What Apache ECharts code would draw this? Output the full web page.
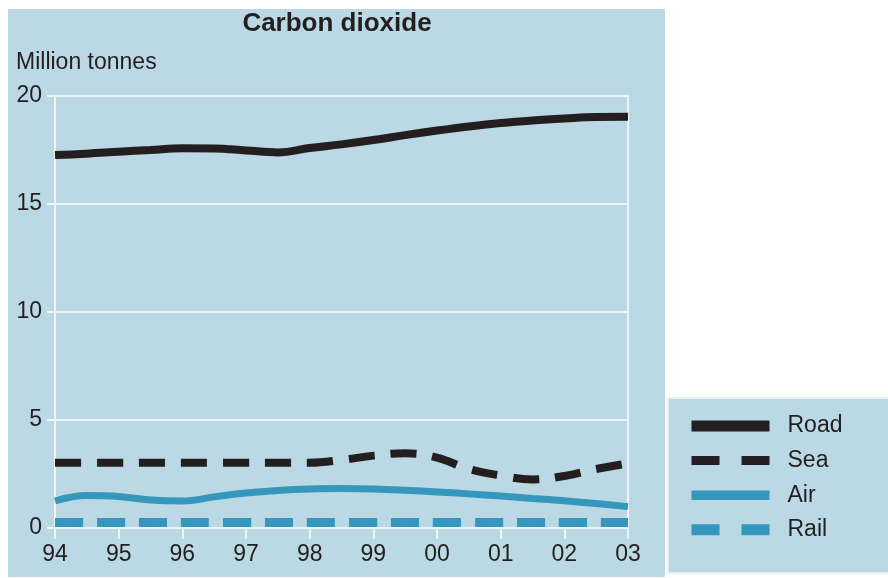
<!DOCTYPE html>
<html>
<head>
<meta charset="utf-8">
<script src="https://cdn.jsdelivr.net/npm/echarts@6/dist/echarts.min.js"></script>
<style>
html,body{margin:0;padding:0;background:#ffffff;}
#chart{width:888px;height:578px;}
</style>
</head>
<body>
<div id="chart"></div>
<script>
// x positions (years, half-year steps)
var years = [1994,1994.5,1995,1995.5,1996,1996.5,1997,1997.5,1998,1998.5,1999,1999.5,2000,2000.5,2001,2001.5,2002,2002.5,2003];
var road  = [17.27,17.33,17.42,17.50,17.58,17.57,17.48,17.39,17.59,17.76,17.96,18.19,18.40,18.59,18.75,18.87,18.96,19.03,19.04];
var sea   = [3.02,3.02,3.02,3.02,3.02,3.02,3.02,3.02,3.02,3.15,3.35,3.46,3.26,2.73,2.43,2.25,2.41,2.73,2.99];
var air   = [1.25,1.50,1.46,1.30,1.25,1.44,1.62,1.74,1.81,1.83,1.81,1.75,1.67,1.58,1.48,1.37,1.26,1.13,0.99];
var rail  = [0.25,0.25,0.25,0.25,0.25,0.25,0.25,0.25,0.25,0.25,0.25,0.25,0.25,0.25,0.25,0.25,0.25,0.25,0.25];
var seriesNames = ['Road','Sea','Air','Rail'];
var yTicks = [0,5,10,15,20];

function pairs(vals){ return years.map(function(x,i){ return [x, vals[i]]; }); }

var BLACK = '#231f20', TEAL = '#3497bb', BG = '#bbd8e5', GRID = '#eef5f8', TXT = '#231f20';
var FONT = '"Liberation Sans", Arial, Helvetica, sans-serif';
var NOSYM = { color: 'rgba(0,0,0,0)', borderWidth: 0, opacity: 0 };

var chart = echarts.init(document.getElementById('chart'));
chart.setOption({
  animation: false,
  backgroundColor: '#ffffff',
  textStyle: { fontFamily: FONT },
  title: {
    text: 'Carbon dioxide',
    left: 332, top: 6, textAlign: 'center',
    textStyle: { fontFamily: FONT, fontSize: 26, fontWeight: 'bold', color: TXT }
  },
  graphic: [
    { type: 'rect', z: -100, shape: { x: 8, y: 9, width: 657, height: 568 }, style: { fill: BG } },
    { type: 'rect', z: -100, shape: { x: 668, y: 398, width: 222, height: 175 }, style: { fill: BG, stroke: '#e4eff4', lineWidth: 2 } },
    { type: 'text', left: 16, top: 51, style: { text: 'Million tonnes', font: '23px ' + FONT, fill: TXT } }
  ],
  grid: { left: 55, right: 260, top: 96, bottom: 50, containLabel: false },
  xAxis: {
    type: 'value', min: 1994, max: 2003, interval: 1,
    axisLine: { show: true, lineStyle: { color: GRID, width: 2 } },
    axisTick: { show: true, length: 11, lineStyle: { color: GRID, width: 2 } },
    axisLabel: { margin: 15, fontSize: 23, color: TXT, fontFamily: FONT,
      formatter: function(v){ return String(v).slice(2); } },
    splitLine: { show: false }
  },
  yAxis: [{
    type: 'value', min: yTicks[0], max: yTicks[yTicks.length-1], interval: 5,
    axisLine: { show: true, lineStyle: { color: GRID, width: 2 } },
    axisTick: { show: true, length: 8, lineStyle: { color: GRID, width: 2 } },
    axisLabel: { margin: 13, fontSize: 23, color: TXT, fontFamily: FONT },
    splitLine: { show: true, lineStyle: { color: GRID, width: 2 } }
  }, {
    type: 'value', min: 0, max: 20, interval: 5, position: 'right',
    axisLine: { show: true, lineStyle: { color: GRID, width: 2 } },
    axisTick: { show: false }, axisLabel: { show: false }, splitLine: { show: false }
  }],
  legend: {
    orient: 'vertical', left: 681, top: 409,
    itemWidth: 78, itemHeight: 24, itemGap: 10.6,
    selectedMode: false,
    textStyle: { fontSize: 23, color: TXT, fontFamily: FONT, lineHeight: 24, padding: [0,0,0,13] },
    data: [
      { name: seriesNames[0], itemStyle: NOSYM, lineStyle: { width: 11, type: 'solid' } },
      { name: seriesNames[1], itemStyle: NOSYM, lineStyle: { width: 9, type: [28,22] } },
      { name: seriesNames[2], itemStyle: NOSYM, lineStyle: { width: 9.5, type: 'solid' } },
      { name: seriesNames[3], itemStyle: NOSYM, lineStyle: { width: 11, type: [28,22] } }
    ]
  },
  series: [
    { name: seriesNames[0], type: 'line', data: pairs(road), smooth: 0.4, symbol: 'none',
      lineStyle: { color: BLACK, width: 8 }, itemStyle: { color: BLACK }, z: 5 },
    { name: seriesNames[1], type: 'line', data: pairs(sea), smooth: 0.4, symbol: 'none',
      lineStyle: { color: BLACK, width: 8, type: [26,16] }, itemStyle: { color: BLACK }, z: 4 },
    { name: seriesNames[2], type: 'line', data: pairs(air), smooth: 0.4, symbol: 'none',
      lineStyle: { color: TEAL, width: 7 }, itemStyle: { color: TEAL }, z: 3 },
    { name: seriesNames[3], type: 'line', data: pairs(rail), smooth: 0.4, symbol: 'none',
      lineStyle: { color: TEAL, width: 9, type: [28,14] }, itemStyle: { color: TEAL }, z: 3 }
  ]
});
</script>
</body>
</html>
